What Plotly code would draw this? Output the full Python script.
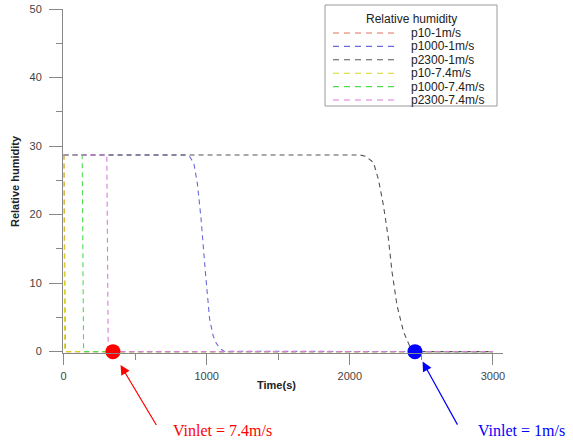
import plotly.graph_objects as go

# ---- data ----
series_names = ["p10-1m/s", "p1000-1m/s", "p2300-1m/s",
                "p10-7.4m/s", "p1000-7.4m/s", "p2300-7.4m/s"]

t_p10_1 = [0, 3, 12, 3000]
rh_p10_1 = [28.7, 28.7, 0, 0]

t_p1000_1 = [0, 860, 880, 910, 935, 960, 990, 1020, 1045, 1065, 1090, 1120, 3000]
rh_p1000_1 = [28.7, 28.7, 28.5, 27.5, 24.5, 19.5, 11.8, 4.8, 2.3, 1.3, 0.5, 0.05, 0]

t_p2300_1 = [0, 2070, 2110, 2165, 2200, 2235, 2270, 2295, 2330, 2375, 2420, 2470, 3000]
rh_p2300_1 = [28.7, 28.7, 28.5, 27.6, 25.1, 21.3, 16.4, 11.6, 6.7, 2.9, 0.7, 0, 0]

t_p10_74 = [0, 2, 8, 3000]
rh_p10_74 = [28.7, 28.7, 0, 0]

t_p1000_74 = [0, 130, 140, 3000]
rh_p1000_74 = [28.7, 28.7, 0, 0]

t_p2300_74 = [0, 302, 312, 3000]
rh_p2300_74 = [28.7, 28.7, 0, 0]

series_t = [t_p10_1, t_p1000_1, t_p2300_1, t_p10_74, t_p1000_74, t_p2300_74]
series_rh = [rh_p10_1, rh_p1000_1, rh_p2300_1, rh_p10_74, rh_p1000_74, rh_p2300_74]

# highlighted points
dot_t = [345, 2455]
dot_rh = [0, 0]
dot_labels = ["Vinlet = 7.4m/s", "Vinlet = 1m/s"]

x_ticks = [0, 1000, 2000, 3000]
y_ticks = [0, 10, 20, 30, 40, 50]

# ---- styles ----
colors = ["#e2705f", "#6a6ad8", "#555555", "#d6d626", "#4fdc4f", "#da7ada"]
dot_colors = ["#ff0000", "#0000ff"]
SANS = "Liberation Sans, Arial, sans-serif"
SERIF = "Liberation Serif, Times New Roman, serif"

fig = go.Figure()
for name, t, rh, c in zip(series_names, series_t, series_rh, colors):
    fig.add_trace(go.Scatter(x=t, y=rh, mode="lines", name=name,
                             line=dict(color=c, width=1.1, dash="5px,4px"),
                             showlegend=False))

fig.add_trace(go.Scatter(x=dot_t, y=dot_rh, mode="markers",
                         marker=dict(color=dot_colors, size=15, line=dict(width=0)),
                         cliponaxis=False, showlegend=False))

# arrows + labels for the highlighted points (arrow tip just below-right of each dot)
arrow_tip_y = [-0.035, -0.025]
arrow_off = [(37, 62), (36, 65)]
text_pos = [(1110, "center"), (2882, "left")]
for tx, col, tipy, (ax, ay), lab, (lx, anc) in zip(dot_t, dot_colors, arrow_tip_y,
                                                   arrow_off, dot_labels, text_pos):
    fig.add_annotation(x=tx + 53, y=tipy, xref="x", yref="paper", ax=ax, ay=ay,
                       showarrow=True, arrowhead=2, arrowsize=1.6, arrowwidth=1.2,
                       arrowcolor=col, text=" ", font=dict(size=1))
    fig.add_annotation(x=lx, y=-0.224, xref="x", yref="paper", text=lab, showarrow=False,
                       xanchor=anc, yanchor="middle",
                       font=dict(family=SERIF, size=16, color=col))

# axis titles
fig.add_annotation(x=-0.109, y=0.5, xref="paper", yref="paper",
                   text="<b>Relative humidity</b>", textangle=-90, showarrow=False,
                   xanchor="center", yanchor="middle",
                   font=dict(family=SANS, size=11, color="#222"))
fig.add_annotation(x=0.486, y=-0.093, xref="paper", yref="paper",
                   text="<b>Time(s)</b>", showarrow=False,
                   xanchor="center", yanchor="middle",
                   font=dict(family=SANS, size=11, color="#222"))

# ---- manual legend box ----
fig.add_shape(type="rect", xref="paper", yref="paper",
              x0=0.5955, x1=0.9864, y0=0.718, y1=1.0116,
              line=dict(color="#999999", width=1), fillcolor="white", layer="above")
fig.add_annotation(x=0.791, y=0.971, xref="paper", yref="paper", text="Relative humidity",
                   showarrow=False, xanchor="center", yanchor="middle",
                   font=dict(family=SANS, size=12, color="#222"))
for i, (name, c) in enumerate(zip(series_names, colors)):
    yy = (353 - 33 - 13.4 * i) / 344
    fig.add_shape(type="line", xref="paper", yref="paper", x0=0.6136, x1=0.7614,
                  y0=yy, y1=yy, line=dict(color=c, width=1.1, dash="6px,5px"), layer="above")
    fig.add_annotation(x=0.7864, y=yy, xref="paper", yref="paper", text=name,
                       showarrow=False, xanchor="left", yanchor="middle",
                       font=dict(family=SANS, size=12, color="#222"))

fig.update_layout(
    width=573, height=444,
    margin=dict(l=63, r=70, t=9, b=91, autoexpand=False),
    plot_bgcolor="white", paper_bgcolor="white",
    font=dict(family=SANS, size=11, color="#444"),
)
fig.update_xaxes(range=[-4, 3070], tickvals=x_ticks, showline=True, linecolor="#888",
                 linewidth=1, ticks="outside", ticklen=11, tickcolor="#888", showgrid=False,
                 zeroline=False, automargin=False, ticklabelstandoff=2,
                 tickfont=dict(size=11, color="#444"),
                 minor=dict(ticks="outside", ticklen=6, tickcolor="#888", dtick=500,
                            tick0=0, showgrid=False))
fig.update_yaxes(range=[-0.2, 50], tickvals=y_ticks, showline=True, linecolor="#888",
                 linewidth=1, ticks="outside", ticklen=13, tickcolor="#888", showgrid=False,
                 zeroline=False, automargin=False, ticklabelstandoff=5,
                 tickfont=dict(size=11, color="#444"),
                 minor=dict(ticks="outside", ticklen=6, tickcolor="#888", dtick=5,
                            tick0=0, showgrid=False))

fig.write_html("out.html", config={"displayModeBar": False},
               post_script="document.body.style.margin='0px';document.body.style.overflow='hidden';")
